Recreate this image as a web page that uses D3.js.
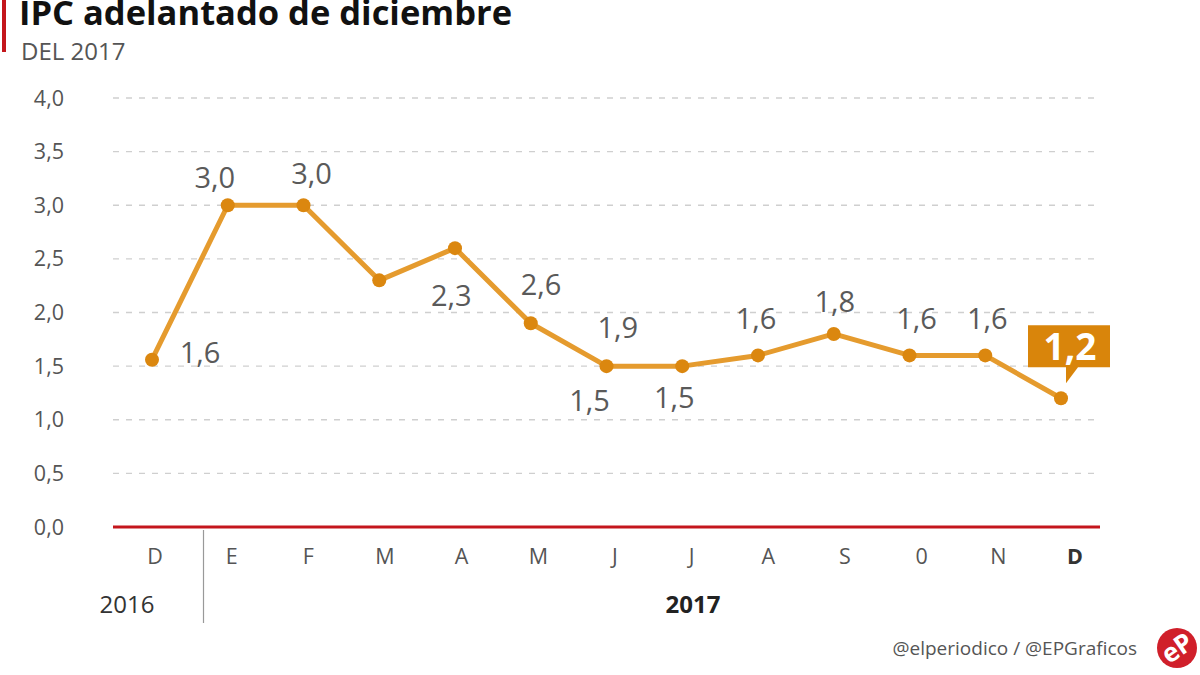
<!DOCTYPE html>
<html><head><meta charset="utf-8">
<script src="https://cdnjs.cloudflare.com/ajax/libs/d3/7.8.5/d3.min.js"></script>
<style>body{margin:0;background:#fff}svg{display:block}text{font-family:"Open Sans",sans-serif}</style>
</head><body><svg id="c" width="1200" height="675"></svg>
<script>
const months = ["D","E","F","M","A","M","J","J","A","S","0","N","D"];
const values = [1.56,3.0,3.0,2.3,2.6,1.9,1.5,1.5,1.6,1.8,1.6,1.6,1.2];
const yTicks = [0,0.5,1,1.5,2,2.5,3,3.5,4];
const years = ["2016","2017"];
// label offsets from each point (as drawn in the original)
const labelDx = [48,-13,8,72,86,87,-17,-8,-2,1,7,2,0];
const labelDy = [3,-17,-21,26,47,15,45,42,-26,-22,-26,-26,0];

const svg = d3.select("#c");
const fmt = v => d3.format(".1f")(v).replace(".",",");
const x = d3.scalePoint().domain(d3.range(months.length)).range([152,1061]);
const xt = d3.scalePoint().domain(d3.range(months.length)).range([155,1075]);
const y = d3.scaleLinear().domain([0,4]).range([527,98]);

// title
svg.append("rect").attr("x",2).attr("y",0).attr("width",4).attr("height",52).attr("fill","#c4161c");
svg.append("text").attr("x",19).attr("y",25).attr("font-size",34.5).attr("font-weight",700).attr("fill","#111").text("IPC adelantado de diciembre");
svg.append("text").attr("x",21).attr("y",60).attr("font-size",24).attr("fill","#555").text("DEL 2017");

// grid
svg.append("g").selectAll("line").data(yTicks.filter(d=>d>0)).join("line")
  .attr("x1",113).attr("x2",1097).attr("y1",d=>y(d)).attr("y2",d=>y(d))
  .attr("stroke","#cfcfcf").attr("stroke-width",1.3).attr("stroke-dasharray","6,7");
svg.append("g").selectAll("text").data(yTicks).join("text")
  .attr("x",64).attr("y",d=>y(d)+7.5).attr("text-anchor","end").attr("font-size",21.5).attr("fill","#555")
  .text(d=>fmt(d));
svg.append("line").attr("x1",113).attr("x2",1100).attr("y1",y(0)).attr("y2",y(0)).attr("stroke","#c4161c").attr("stroke-width",3);

// month labels
svg.append("g").selectAll("text").data(months).join("text")
  .attr("x",(d,i)=>xt(i)).attr("y",564).attr("text-anchor","middle").attr("font-size",21.5)
  .attr("font-weight",(d,i)=>i===months.length-1?700:400).attr("fill",(d,i)=>i===months.length-1?"#333":"#555").text(d=>d);
svg.append("line").attr("x1",203.5).attr("x2",203.5).attr("y1",530).attr("y2",623).attr("stroke","#999").attr("stroke-width",1.2);
svg.append("text").attr("x",127).attr("y",613).attr("text-anchor","middle").attr("font-size",24).attr("fill","#333").text(years[0]);
svg.append("text").attr("x",693).attr("y",613).attr("text-anchor","middle").attr("font-size",24).attr("font-weight",700).attr("fill","#222").text(years[1]);

// line
svg.append("path").datum(values).attr("fill","none").attr("stroke","#e59b2e").attr("stroke-width",5).attr("stroke-linejoin","round")
  .attr("d",d3.line().x((d,i)=>x(i)).y(d=>y(d)));
svg.append("g").selectAll("circle").data(values).join("circle")
  .attr("cx",(d,i)=>x(i)).attr("cy",d=>y(d)).attr("r",7).attr("fill","#db870f");

// labels
svg.append("g").selectAll("text").data(values.slice(0,-1)).join("text")
  .attr("x",(d,i)=>x(i)+labelDx[i]).attr("y",(d,i)=>y(d)+labelDy[i]).attr("text-anchor","middle")
  .attr("font-size",29).attr("fill","#5a5a5a").text(d=>fmt(d));

// callout for last value
const li = values.length-1, lx = x(li), ly = y(values[li]);
const bx = lx-33, by = ly-73, bw = 82, bh = 42;
svg.append("path").attr("fill","#d9850b")
  .attr("d",`M${bx},${by}h${bw}v${bh}h${-(bw-50)}l${-12},${16}v${-16}h${-(38)}z`);
svg.append("text").attr("x",bx+bw/2+1).attr("y",by+bh-7).attr("text-anchor","middle").attr("font-size",37).attr("font-weight",700)
  .attr("fill","#fff").text(fmt(values[li]));

// footer
svg.append("text").attr("x",1137).attr("y",655).attr("text-anchor","end").attr("font-size",19).attr("fill","#555").text("@elperiodico / @EPGraficos");
svg.append("circle").attr("cx",1177).attr("cy",648).attr("r",20).attr("fill","#d01f2a");
svg.append("text").attr("x",1177).attr("y",657).attr("text-anchor","middle").attr("font-size",26).attr("font-weight",700)
  .attr("fill","#fff").attr("transform","rotate(-35,1177,648)").text("eP");
</script></body></html>
